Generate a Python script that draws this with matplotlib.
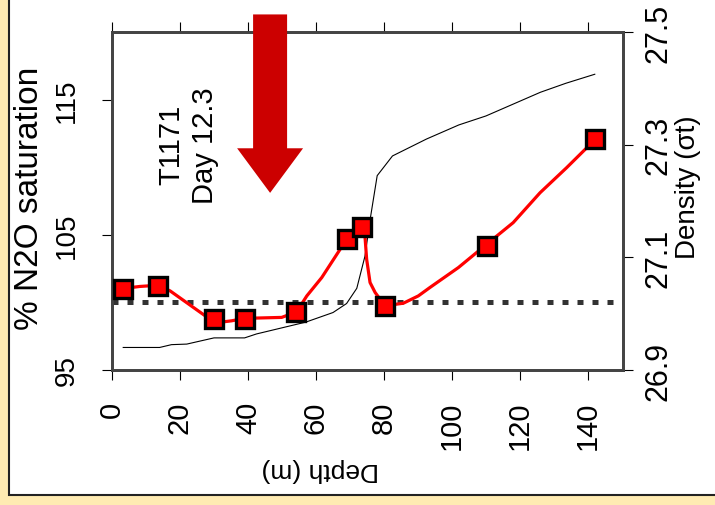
import matplotlib
matplotlib.use("Agg")
import matplotlib.pyplot as plt
from matplotlib.patches import Rectangle, FancyArrow

plt.rcParams['font.family'] = ['Liberation Sans', 'DejaVu Sans']

# N2O saturation samples (markers)
sample_depth = [3.3, 13.6, 30.1, 39.1, 54.0, 69.0, 73.4, 80.4, 110.2, 142.1]
sample_sat = [101.0, 101.2, 98.8, 98.8, 99.3, 104.7, 105.6, 99.7, 104.2, 112.1]

# smoothed N2O saturation profile (red curve)
curve_depth = [3.3, 8.2, 13.6, 17.1, 28.8, 32.7, 35.2, 39.1, 49.9, 54.3, 57.3,
               61.7, 67.1, 69.0, 73.4, 74.4, 74.9, 75.9, 77.4, 80.3, 85.7, 90.1,
               93.5, 101.9, 110.2, 118.0, 125.9, 133.7, 142.1]
curve_sat = [101.03, 101.18, 101.27, 100.85, 98.76, 98.56, 98.64, 98.82, 98.89,
             99.30, 100.48, 101.84, 103.93, 104.72, 105.70, 104.91, 103.19,
             101.47, 100.73, 99.75, 99.94, 100.48, 101.10, 102.58, 104.30,
             105.90, 108.11, 109.96, 112.05]

# density profile (sigma-t)
dens_depth = [3.3, 14, 17.5, 22, 30, 39, 42.5, 57, 65, 69, 72, 74.4, 76, 78,
              82.5, 92.5, 102, 110, 118, 126, 133.5, 142]
dens_val = [26.940, 26.940, 26.945, 26.946, 26.957, 26.957, 26.964, 26.985,
            27.002, 27.018, 27.045, 27.102, 27.170, 27.245, 27.280, 27.310,
            27.335, 27.351, 27.372, 27.393, 27.409, 27.425]

saturation_ref = 100
depth_ticks = [0, 20, 40, 60, 80, 100, 120, 140]
sat_ticks = [95, 105, 115]
dens_ticks = [26.9, 27.1, 27.3, 27.5]
dens_ticklabels = ['26.9', '27.1', '27.3', '27.5']

W, H = 715, 506
fig = plt.figure(figsize=(W / 100, H / 100), dpi=100)
fig.patch.set_facecolor('#FFEBB2')
fig.patches.append(Rectangle((9 / W, 1 - 496 / H), 1.0, 1.0, transform=fig.transFigure,
                             facecolor='white', edgecolor='#222222', linewidth=1.5,
                             zorder=-5))

L, R, T, B = 112, 623, 33, 371
ax = fig.add_axes([L / W, 1 - B / H, (R - L) / W, (B - T) / H])
ax2 = ax.twinx()
ax.set_zorder(ax2.get_zorder() + 1)
ax.patch.set_visible(False)
ax2.patch.set_facecolor('white')

ax.set_xlim(0, 150.3)
ax.set_ylim(95, 120)
ax2.set_ylim(26.9, 27.5)

ax2.plot(dens_depth, dens_val, color='black', linewidth=0.8)

ax.axhline(saturation_ref, color='#333333', linewidth=3.6, dashes=(1.2, 1.8),
           dash_capstyle='butt', zorder=2)
ax.plot(curve_depth, curve_sat, color='#FF0000', linewidth=2.3, zorder=3)
ax.plot(sample_depth, sample_sat, linestyle='none', marker='s', markersize=13,
        markerfacecolor='#FF0000', markeredgecolor='black', markeredgewidth=2.4,
        zorder=4)

for a in (ax, ax2):
    for s in a.spines.values():
        s.set_color('#444444')
        s.set_linewidth(2)

ax.set_xticks(depth_ticks)
ax.set_xticklabels([str(v) for v in depth_ticks], rotation=90, fontsize=21)
ax.tick_params(axis='x', direction='out', length=7, width=0.8, top=True,
               pad=15, colors='black')
ax.set_yticks(sat_ticks)
ax.set_yticklabels([str(v) for v in sat_ticks], rotation=90, va='center', fontsize=20)
ax.tick_params(axis='y', direction='out', length=7, width=0.8, pad=16)

ax2.set_yticks(dens_ticks)
ax2.set_yticklabels(dens_ticklabels, rotation=90, va='center', fontsize=22)
ax2.tick_params(axis='y', direction='out', length=7, width=0.8, pad=8)

ax.set_ylabel('% N2O saturation', fontsize=24, rotation=90, ha='center', va='center',
              rotation_mode='default')
ax.yaxis.set_label_coords((30 - L) / (R - L), (B - 198) / (B - T))
ax2.set_ylabel('Density (\u03c3t)', fontsize=20, rotation=90, ha='center', va='center',
               rotation_mode='default')
ax2.yaxis.set_label_coords((688 - L) / (R - L), (B - 187) / (B - T))
ax.set_xlabel('Depth (m)', fontsize=19, rotation=180, ha='center', va='center')
ax.xaxis.set_label_coords((320 - L) / (R - L), (B - 470) / (B - T))

ax.text(22.4, 111.7, 'T1171\nDay 12.3', rotation=90, ha='center', va='center',
        fontsize=21, linespacing=1.25, multialignment='center')

arrow = FancyArrow(46.5, 121.3, 0, -13.2, width=10.0, head_width=19.4,
                   head_length=3.3, length_includes_head=True, color='#CC0000',
                   linewidth=0, clip_on=False, zorder=10)
ax.add_patch(arrow)

fig.savefig('out.png', dpi=100, facecolor=fig.get_facecolor())
